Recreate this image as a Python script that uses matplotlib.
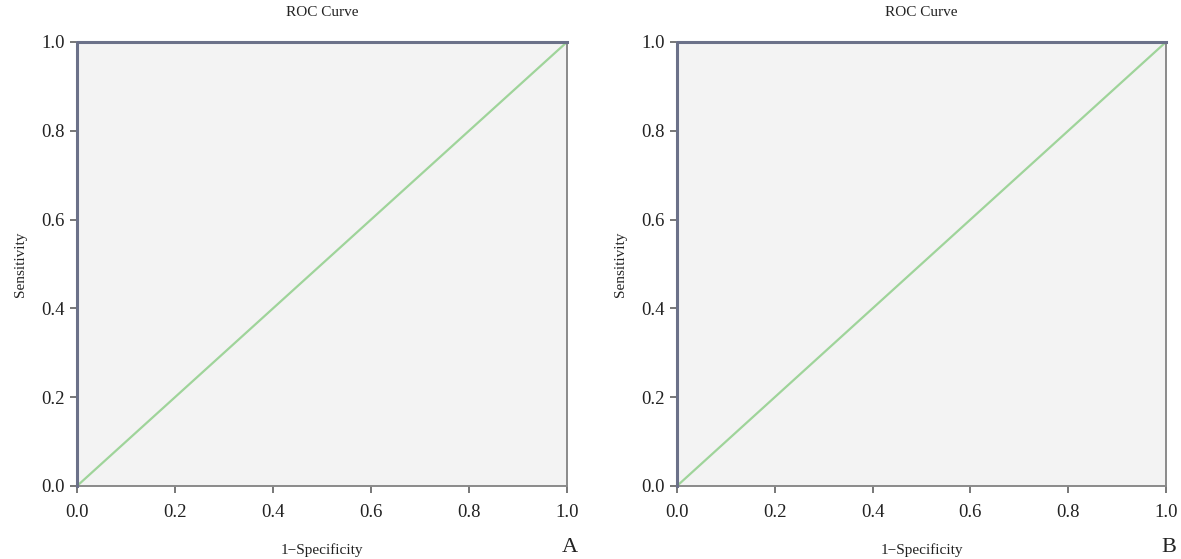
import matplotlib
matplotlib.use("Agg")
import matplotlib.pyplot as plt

plt.rcParams['font.family'] = ['Liberation Serif', 'DejaVu Serif']

# ROC curve points for the two panels (1-specificity, sensitivity)
roc_fpr_a = [0.0, 0.0, 1.0]
roc_tpr_a = [0.0, 1.0, 1.0]
roc_fpr_b = [0.0, 0.0, 1.0]
roc_tpr_b = [0.0, 1.0, 1.0]
ref_line = [0.0, 1.0]
ticks = [0.0, 0.2, 0.4, 0.6, 0.8, 1.0]
tick_labels = ["0.0", "0.2", "0.4", "0.6", "0.8", "1.0"]
panel_labels = ["A", "B"]

fig = plt.figure(figsize=(11.81, 5.59), dpi=100)

panels = [
    (fig.add_axes([0.0652, 0.1306, 0.4149, 0.7943]), roc_fpr_a, roc_tpr_a),
    (fig.add_axes([0.5732, 0.1306, 0.4141, 0.7943]), roc_fpr_b, roc_tpr_b),
]

for i, (ax, fpr, tpr) in enumerate(panels):
    ax.set_facecolor("#f3f3f3")
    ax.plot(ref_line, ref_line, color="#9fd49a", lw=1.6, zorder=2)
    ax.plot(fpr, tpr, color="#6b7189", lw=2.2, zorder=3, clip_on=False)
    ax.set_xlim(0, 1)
    ax.set_ylim(0, 1)
    ax.set_xticks(ticks)
    ax.set_xticklabels(tick_labels)
    ax.set_yticks(ticks)
    ax.set_yticklabels(tick_labels)
    for side in ["bottom", "right", "left", "top"]:
        ax.spines[side].set_color("#8a8a8a")
        ax.spines[side].set_linewidth(1.4)
    ax.tick_params(axis="both", direction="out", length=5, width=1.4,
                   color="#777777", labelsize=13.5, labelcolor="#222222", pad=4)
    ax.tick_params(axis="x", pad=8)
    ax.set_title("ROC Curve", fontsize=11, color="#222222", pad=19)
    ax.set_xlabel("1\u2212Specificity", fontsize=11, color="#222222", labelpad=16)
    ax.set_ylabel("Sensitivity", fontsize=11, color="#222222", labelpad=10)
    # panel letter under the right end of the x axis
    x_fig = ax.get_position().x1
    fig.text(x_fig + 0.002, 0.004, panel_labels[i], fontsize=16,
             ha="center", va="bottom", color="#222222")

fig.savefig("out.png", dpi=100)
